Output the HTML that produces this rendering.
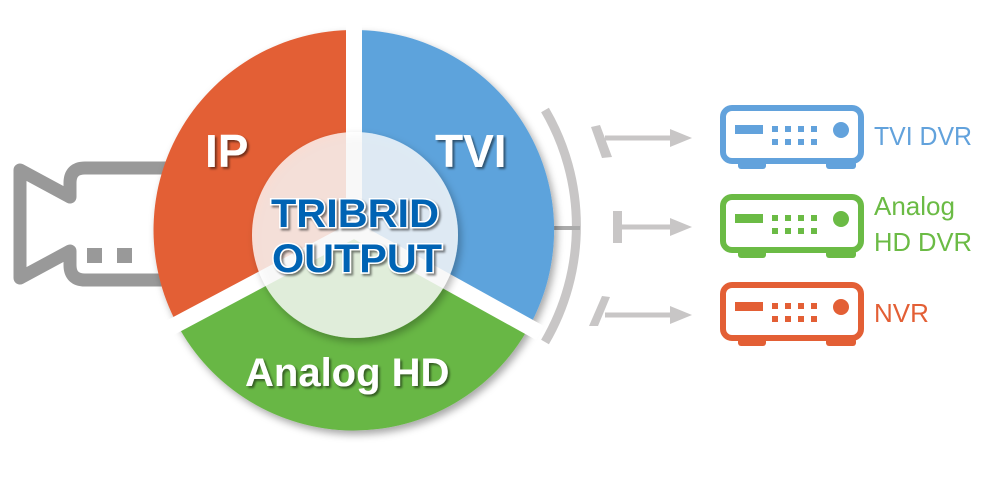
<!DOCTYPE html>
<html><head><style>body{margin:0;background:#fff}svg{display:block}</style></head><body>
<svg width="1000" height="500" viewBox="0 0 1000 500" xmlns="http://www.w3.org/2000/svg" font-family="Liberation Sans, sans-serif">
<defs>
<filter id="sh" x="-20%" y="-20%" width="140%" height="140%"><feDropShadow dx="3" dy="4" stdDeviation="4" flood-color="#000" flood-opacity="0.35"/></filter>
<filter id="ts" x="-10%" y="-10%" width="130%" height="130%"><feDropShadow dx="2" dy="2" stdDeviation="1" flood-color="#000" flood-opacity="0.5"/></filter>
<g id="dvr">
<rect x="723" y="108" width="138" height="53" rx="9" fill="#fff" stroke="currentColor" stroke-width="6"/>
<rect x="738" y="161" width="28" height="8" rx="3" fill="currentColor"/>
<rect x="826" y="161" width="30" height="8" rx="3" fill="currentColor"/>
<rect x="735" y="125" width="28" height="9" fill="currentColor"/>
<g fill="currentColor"><rect x="772" y="126" width="6" height="6"/><rect x="785" y="126" width="6" height="6"/><rect x="798" y="126" width="6" height="6"/><rect x="811" y="126" width="6" height="6"/>
<rect x="772" y="139" width="6" height="6"/><rect x="785" y="139" width="6" height="6"/><rect x="798" y="139" width="6" height="6"/><rect x="811" y="139" width="6" height="6"/></g>
<circle cx="841" cy="130" r="8" fill="currentColor"/>
</g>
</defs>
<g stroke="#999" stroke-width="13" fill="none" stroke-linejoin="round">
<path d="M20 170 L70 197 L70 183 Q70 168 85 168 L200 168 L200 280 L85 280 Q70 280 70 265 L70 251 L20 278 Z"/>
</g>
<rect x="87" y="248" width="15" height="15" fill="#999"/><rect x="117" y="248" width="15" height="15" fill="#999"/>
<path d="M545 110 A230 230 0 0 1 545 342" stroke="#c8c6c6" stroke-width="9" fill="none"/>
<line x1="550" y1="228" x2="580" y2="228" stroke="#aaa" stroke-width="4"/>
<g filter="url(#sh)">
<path d="M354 230 L354 30 A200 200 0 0 1 529 327 Z" fill="#5da3dc"/>
<path d="M354 230 L529 327 A200 200 0 0 1 177 324 Z" fill="#67b745"/>
<path d="M354 230 L177 324 A200 200 0 0 1 354 30 Z" fill="#e35f35"/>
</g>
<g stroke="#fff" stroke-width="16">
<line x1="354" y1="230" x2="354" y2="20"/>
<line x1="354" y1="230" x2="540" y2="333"/>
<line x1="354" y1="230" x2="166" y2="330"/>
</g>
<circle cx="355" cy="235" r="103" fill="#fff" fill-opacity="0.78" filter="url(#sh)"/>
<g font-weight="bold" fill="#fff" filter="url(#ts)">
<text x="205" y="167" font-size="46">IP</text>
<text x="435" y="167" font-size="46">TVI</text>
<text x="245" y="386" font-size="40">Analog HD</text>
</g>
<g font-weight="bold" fill="#0064b4" stroke="#fff" stroke-width="3" paint-order="stroke" font-size="40" text-anchor="middle" filter="url(#ts)">
<text x="355" y="227" textLength="168" lengthAdjust="spacingAndGlyphs">TRIBRID</text>
<text x="357" y="272" textLength="170" lengthAdjust="spacingAndGlyphs">OUTPUT</text>
</g>
<g stroke="#c8c6c6" stroke-width="5" fill="#c8c6c6">
<line x1="605" y1="138" x2="675" y2="138"/><path d="M670 129 L692 138 L670 147 Z" stroke="none"/>
<path d="M591 127 L600 125 L612 157 L602 158 Z" stroke="none"/>
<line x1="620" y1="227" x2="675" y2="227"/><path d="M670 218 L692 227 L670 236 Z" stroke="none"/>
<rect x="613" y="211" width="9" height="32" stroke="none"/>
<line x1="605" y1="315" x2="675" y2="315"/><path d="M670 306 L692 315 L670 324 Z" stroke="none"/>
<path d="M602 296 L610 297 L598 326 L589 326 Z" stroke="none"/>
</g>
<use href="#dvr" color="#62a2dc"/>
<use href="#dvr" color="#6bbb45" transform="translate(0,89)"/>
<use href="#dvr" color="#e35f35" transform="translate(0,177)"/>
<g font-size="26">
<text x="874" y="145" fill="#62a2dc" textLength="98" lengthAdjust="spacingAndGlyphs">TVI DVR</text>
<text x="874" y="215" fill="#6bbb45">Analog</text>
<text x="874" y="251" fill="#6bbb45" textLength="98" lengthAdjust="spacingAndGlyphs">HD DVR</text>
<text x="874" y="322" fill="#e35f35">NVR</text>
</g>
</svg>
</body></html>
